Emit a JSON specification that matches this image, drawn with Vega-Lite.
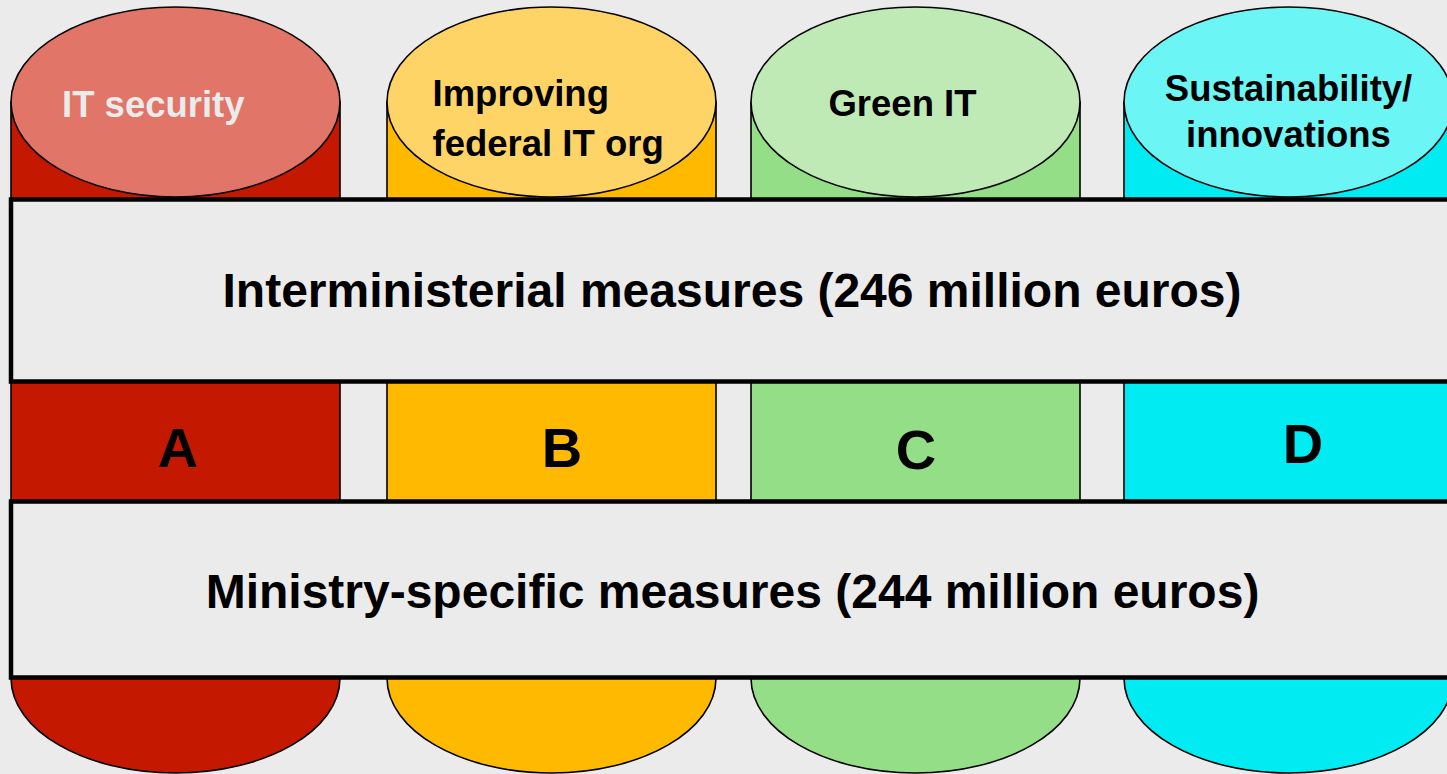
{
  "$schema": "https://vega.github.io/schema/vega-lite/v6.json",
  "width": 1447,
  "height": 774,
  "padding": 0,
  "autosize": {"type": "none"},
  "background": "#ebebeb",
  "config": {"view": {"stroke": null}, "axis": {"disable": true}, "legend": {"disable": true}},
  "datasets": {
    "cyl": [
      {"id": "A", "cx": 175.5, "x1": 11, "x2": 340, "top": 102, "bottom": 678},
      {"id": "B", "cx": 551.5, "x1": 387, "x2": 716, "top": 102, "bottom": 678},
      {"id": "C", "cx": 915.5, "x1": 751, "x2": 1080, "top": 102, "bottom": 678},
      {"id": "D", "cx": 1288.5, "x1": 1124, "x2": 1453, "top": 102, "bottom": 678}
    ],
    "bands": [
      {"name": "Interministerial", "x1": 11, "x2": 1475, "y1": 199.5, "y2": 381.5, "label": "Interministerial measures (246 million euros)", "tx": 732, "ty": 306.7},
      {"name": "Ministry-specific", "x1": 11, "x2": 1475, "y1": 501.5, "y2": 677.5, "label": "Ministry-specific measures (244 million euros)", "tx": 732.5, "ty": 607.7}
    ],
    "letters": [
      {"id": "A", "x": 178, "y": 467},
      {"id": "B", "x": 562, "y": 466.7},
      {"id": "C", "x": 916, "y": 468.5},
      {"id": "D", "x": 1303, "y": 463}
    ],
    "lightLabels": [
      {"id": "A", "x": 62, "y": 117, "text": "IT security"}
    ],
    "leftLabels": [
      {"id": "B", "x": 432.5, "y": 106, "text": "Improving\nfederal IT org"}
    ],
    "centerLabels": [
      {"id": "C", "x": 902.5, "y": 115.5, "text": "Green IT"},
      {"id": "D", "x": 1288.5, "y": 101, "text": "Sustainability/\ninnovations"}
    ]
  },
  "layer": [
    {
      "data": {"name": "cyl"},
      "mark": {"type": "point", "filled": true, "opacity": 1, "stroke": "black", "strokeWidth": 1.6, "size": 108241,
        "shape": "M-1,0C-1,0.319,-0.5523,0.5775,0,0.5775C0.5523,0.5775,1,0.319,1,0C1,-0.319,0.5523,-0.5775,0,-0.5775C-0.5523,-0.5775,-1,-0.319,-1,0Z"},
      "encoding": {
        "x": {"field": "cx", "type": "quantitative", "scale": {"domain": [0, 1447], "nice": false, "zero": false}},
        "y": {"field": "bottom", "type": "quantitative", "scale": {"domain": [0, 774], "nice": false, "zero": false, "reverse": true}},
        "color": {"field": "id", "type": "nominal", "scale": {"domain": ["A", "B", "C", "D"], "range": ["#c41800", "#ffba00", "#93de86", "#00ecf2"]}}
      }
    },
    {
      "data": {"name": "cyl"},
      "mark": {"type": "rect", "stroke": "black", "strokeWidth": 1.6, "opacity": 1},
      "encoding": {
        "x": {"field": "x1", "type": "quantitative"},
        "x2": {"field": "x2"},
        "y": {"field": "top", "type": "quantitative"},
        "y2": {"field": "bottom"},
        "color": {"field": "id", "type": "nominal"}
      }
    },
    {
      "data": {"name": "cyl"},
      "mark": {"type": "point", "opacity": 1, "fillOpacity": 1, "stroke": "black", "strokeWidth": 1.6, "size": 108241,
        "shape": "M-1,0C-1,0.319,-0.5523,0.5775,0,0.5775C0.5523,0.5775,1,0.319,1,0C1,-0.319,0.5523,-0.5775,0,-0.5775C-0.5523,-0.5775,-1,-0.319,-1,0Z"},
      "encoding": {
        "x": {"field": "cx", "type": "quantitative"},
        "y": {"field": "top", "type": "quantitative"},
        "fill": {"field": "id", "type": "nominal", "scale": {"domain": ["A", "B", "C", "D"], "range": ["#e07568", "#ffd466", "#bfeab6", "#6cf5f5"]}}
      }
    },
    {
      "data": {"name": "bands"},
      "mark": {"type": "rect", "fill": "#ebebeb", "stroke": "black", "strokeWidth": 4.5},
      "encoding": {
        "x": {"field": "x1", "type": "quantitative"},
        "x2": {"field": "x2"},
        "y": {"field": "y1", "type": "quantitative"},
        "y2": {"field": "y2"}
      }
    },
    {
      "data": {"name": "bands"},
      "mark": {"type": "text", "font": "Liberation Sans", "fontWeight": "bold", "fontSize": 48, "align": "center", "baseline": "alphabetic", "color": "black"},
      "encoding": {
        "x": {"field": "tx", "type": "quantitative"},
        "y": {"field": "ty", "type": "quantitative"},
        "text": {"field": "label"}
      }
    },
    {
      "data": {"name": "letters"},
      "mark": {"type": "text", "font": "Liberation Sans", "fontWeight": "bold", "fontSize": 56, "align": "center", "baseline": "alphabetic", "color": "black"},
      "encoding": {
        "x": {"field": "x", "type": "quantitative"},
        "y": {"field": "y", "type": "quantitative"},
        "text": {"field": "id"}
      }
    },
    {
      "data": {"name": "lightLabels"},
      "mark": {"type": "text", "font": "Liberation Sans", "fontWeight": "bold", "fontSize": 36.5, "align": "left", "baseline": "alphabetic", "color": "#ebebeb"},
      "encoding": {
        "x": {"field": "x", "type": "quantitative"},
        "y": {"field": "y", "type": "quantitative"},
        "text": {"field": "text"}
      }
    },
    {
      "data": {"name": "leftLabels"},
      "mark": {"type": "text", "font": "Liberation Sans", "fontWeight": "bold", "fontSize": 36.5, "align": "left", "baseline": "alphabetic", "lineBreak": "\n", "lineHeight": 50, "color": "black"},
      "encoding": {
        "x": {"field": "x", "type": "quantitative"},
        "y": {"field": "y", "type": "quantitative"},
        "text": {"field": "text"}
      }
    },
    {
      "data": {"name": "centerLabels"},
      "mark": {"type": "text", "font": "Liberation Sans", "fontWeight": "bold", "fontSize": 36.5, "align": "center", "baseline": "alphabetic", "lineBreak": "\n", "lineHeight": 46, "color": "black"},
      "encoding": {
        "x": {"field": "x", "type": "quantitative"},
        "y": {"field": "y", "type": "quantitative"},
        "text": {"field": "text"}
      }
    }
  ]
}
